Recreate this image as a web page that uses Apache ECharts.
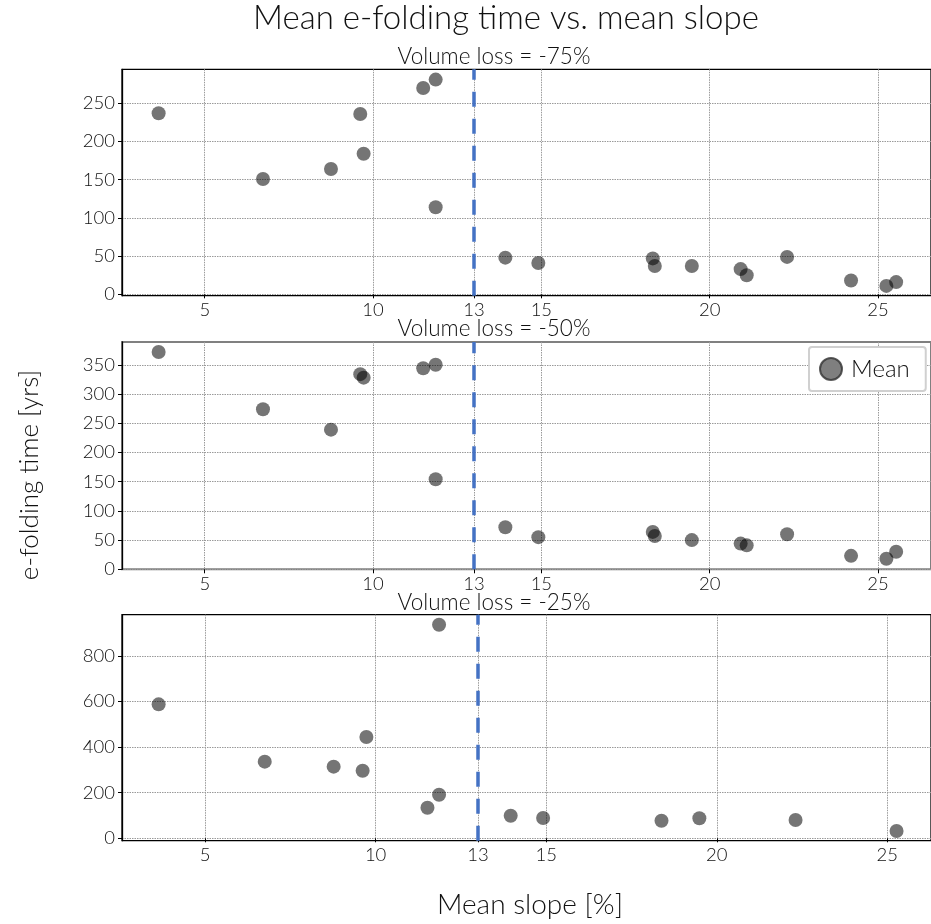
<!DOCTYPE html>
<html>
<head>
<meta charset="utf-8">
<script src="https://cdn.jsdelivr.net/npm/echarts@6/dist/echarts.min.js"></script>
<style>html,body{margin:0;padding:0;background:#fff;}#chart{width:931px;height:924px;}</style>
</head>
<body>
<div id="chart"></div>
<script>
// ---- data ----
const slope = [3.63, 6.73, 8.75, 9.62, 9.72, 11.49, 11.86, 11.86, 13.93, 14.91, 18.31, 18.37, 19.47, 20.92, 21.10, 22.30, 24.20, 25.25, 25.54];
const efold75 = [237, 151, 164, 236, 184, 270, 281, 114, 48, 41, 47, 37, 37, 33, 25, 49, 18, 11, 16];
const efold50 = [372, 274, 239, 334, 328, 344, 350, 154, 72, 55, 64, 57, 50, 44, 41, 60, 23, 18, 30];
const slope25 = [3.64, 6.75, 8.77, 9.62, 9.73, 11.52, 11.86, 11.86, 13.96, 14.91, 18.38, 19.49, 22.31, 25.27];
const efold25 = [587, 336, 314, 296, 444, 134, 191, 936, 99, 89, 77, 88, 80, 32];
const threshold = 13;
const xTicks = [5, 10, 13, 15, 20, 25];
const yTicks75 = [0, 50, 100, 150, 200, 250];
const yTicks50 = [0, 50, 100, 150, 200, 250, 300, 350];
const yTicks25 = [0, 200, 400, 600, 800];
const panelTitles = ['Volume loss = -75%', 'Volume loss = -50%', 'Volume loss = -25%'];

const FONT = 'Lato, "Open Sans", sans-serif';
const pointColor = 'rgba(0,0,0,0.68)';

function pairs(xs, ys) { return xs.map((x, i) => [x, ys[i]]); }

const panels = [
  { top: 69.3, height: 226.4, xmin: 2.542, xmax: 26.575, ymin: -1.8, ymax: 294.5, yTicks: yTicks75, data: pairs(slope, efold75), border: '#000', bw: 1.3 },
  { top: 342, height: 227.3, xmin: 2.542, xmax: 26.575, ymin: 0, ymax: 389, yTicks: yTicks50, data: pairs(slope, efold50), border: '#808080', bw: 2 },
  { top: 614.7, height: 226, xmin: 2.566, xmax: 26.28, ymin: -10.5, ymax: 980, yTicks: yTicks25, data: pairs(slope25, efold25), border: '#000', bw: 1.3 }
];

const gridLine = { show: true, lineStyle: { color: '#9a9a9a', width: 1, type: [1.5, 1] } };
const grid = [], xAxis = [], yAxis = [], series = [];
panels.forEach((p, i) => {
  grid.push({ left: 122, right: 0, top: p.top, height: p.height, show: true, borderColor: p.border, borderWidth: p.bw, backgroundColor: 'transparent' });
  xAxis.push({
    type: 'value', gridIndex: i, min: p.xmin, max: p.xmax,
    axisLine: { show: false },
    axisTick: { show: true, length: 4, customValues: xTicks, lineStyle: { color: '#000', width: 1 } },
    axisLabel: { customValues: xTicks, fontFamily: FONT, fontWeight: 300, fontSize: 18.5, color: '#111', margin: 5 },
    splitLine: gridLine
  });
  yAxis.push({
    type: 'value', gridIndex: i, min: p.ymin, max: p.ymax,
    axisLine: { show: true, lineStyle: { color: '#000', width: 1.3 } },
    axisTick: { show: true, length: 4, customValues: p.yTicks, lineStyle: { color: '#000', width: 1 } },
    axisLabel: { customValues: p.yTicks, fontFamily: FONT, fontWeight: 300, fontSize: 18.5, color: '#111', margin: 7 },
    splitLine: gridLine
  });
  series.push({
    type: 'scatter', name: 'Mean', xAxisIndex: i, yAxisIndex: i,
    data: p.data, symbolSize: 14,
    itemStyle: { color: pointColor },
    markLine: {
      silent: true, symbol: 'none', label: { show: false },
      lineStyle: { color: '#4472C4', width: 3.5, type: [15, 12] },
      data: [{ xAxis: threshold }]
    }
  });
});

const graphic = [
  { type: 'text', x: 506, y: 18, style: { text: 'Mean e-folding time vs. mean slope', font: '300 33px ' + FONT, fill: '#111', textAlign: 'center', textVerticalAlign: 'middle' } },
  { type: 'text', x: 494, y: 57, style: { text: panelTitles[0], font: '300 22.5px ' + FONT, fill: '#111', textAlign: 'center', textVerticalAlign: 'middle' } },
  { type: 'text', x: 494, y: 329, style: { text: panelTitles[1], font: '300 22.5px ' + FONT, fill: '#111', textAlign: 'center', textVerticalAlign: 'middle' } },
  { type: 'text', x: 494, y: 603, style: { text: panelTitles[2], font: '300 22.5px ' + FONT, fill: '#111', textAlign: 'center', textVerticalAlign: 'middle' } },
  { type: 'text', x: 30, y: 475, rotation: Math.PI / 2, style: { text: 'e-folding time [yrs]', font: '300 26px ' + FONT, fill: '#111', textAlign: 'center', textVerticalAlign: 'middle' } },
  { type: 'text', x: 530, y: 905, style: { text: 'Mean slope [%]', font: '300 28px ' + FONT, fill: '#111', textAlign: 'center', textVerticalAlign: 'middle' } }
];

const chart = echarts.init(document.getElementById('chart'), null, { renderer: 'canvas' });
chart.setOption({
  animation: false,
  backgroundColor: '#fff',
  grid, xAxis, yAxis, series, graphic,
  legend: {
    data: ['Mean'], left: 809, top: 347, orient: 'vertical',
    padding: [10, 16, 10, 10], itemGap: 0,
    icon: 'circle', itemWidth: 22, itemHeight: 22,
    itemStyle: { color: '#5f5f5f', borderColor: '#333', borderWidth: 2 },
    textStyle: { fontFamily: FONT, fontWeight: 300, fontSize: 24, color: '#111', padding: [0, 0, 0, 4] },
    backgroundColor: '#fff', borderColor: '#d0d0d0', borderWidth: 2, borderRadius: 3
  }
});
</script>
</body>
</html>
